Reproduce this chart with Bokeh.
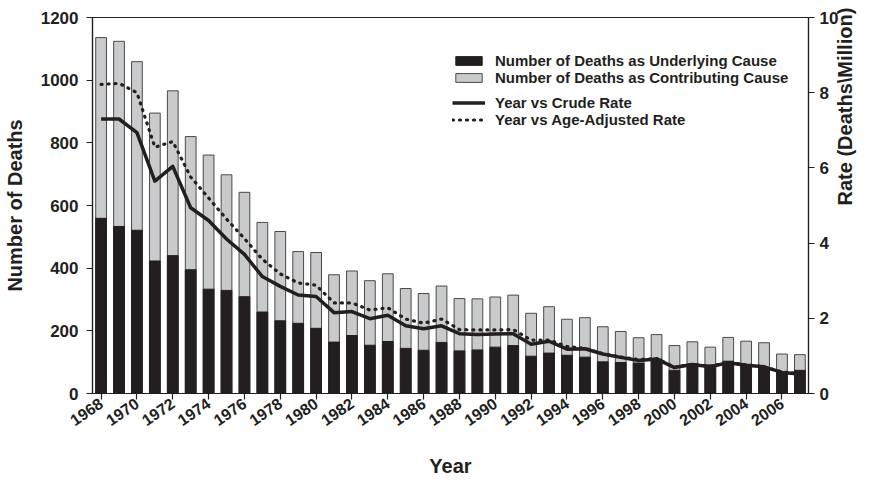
import math
from bokeh.plotting import figure
from bokeh.models import Range1d, LinearAxis, FixedTicker, Legend, LegendItem
from bokeh.embed import file_html
from bokeh.resources import INLINE

years = list(range(1968, 2008))
underlying = [559, 533, 521, 423, 440, 395, 333, 329, 309, 260, 232, 224, 208, 164, 185,
              154, 166, 144, 138, 163, 136, 139, 148, 153, 119, 129, 122, 116,
              101, 99, 97, 110, 74, 93, 91, 103, 90, 83, 67, 74]
contributing = [1136, 1124, 1059, 895, 966, 820, 761, 698, 642, 546, 517, 453, 450, 379, 391,
                360, 382, 335, 319, 343, 303, 302, 308, 314, 256, 277, 237, 242,
                213, 198, 178, 188, 153, 165, 148, 179, 167, 162, 126, 124]
crude_rate = [7.30, 7.30, 6.94, 5.65, 6.04, 4.94, 4.60, 4.11, 3.70, 3.11, 2.85, 2.62, 2.58, 2.15, 2.18,
              1.99, 2.08, 1.80, 1.72, 1.80, 1.59, 1.57, 1.58, 1.59, 1.31, 1.39, 1.18, 1.19,
              1.05, 0.96, 0.88, 0.92, 0.69, 0.77, 0.71, 0.82, 0.75, 0.71, 0.56, 0.52]
age_adj_rate = [8.22, 8.25, 8.00, 6.55, 6.70, 5.76, 5.20, 4.64, 4.12, 3.57, 3.18, 2.94, 2.88, 2.41, 2.41,
                2.22, 2.28, 1.98, 1.87, 1.98, 1.70, 1.69, 1.69, 1.70, 1.42, 1.42, 1.25, 1.20,
                1.06, 0.97, 0.90, 0.93, 0.70, 0.78, 0.72, 0.83, 0.76, 0.71, 0.57, 0.53]
x_ticks = list(range(1968, 2007, 2))
left_ticks = list(range(0, 1201, 200))
right_ticks = [0, 2, 4, 6, 8, 10]

FONT = "Liberation Sans"
INK = "#231f20"

p = figure(width=875, height=479, output_backend="svg", toolbar_location=None,
           x_range=Range1d(1967.52, 2007.48), y_range=Range1d(0, 1200),
           min_border_left=90, min_border_top=17, min_border_right=67, min_border_bottom=86)
p.extra_y_ranges = {"rate": Range1d(0, 10)}
p.grid.visible = False
p.outline_line_color = INK
p.outline_line_width = 1.2
p.background_fill_color = "white"
p.border_fill_color = "white"

r_contrib = p.vbar(x=years, top=contributing, width=0.6, bottom=0,
                   fill_color="#c9cacc", line_color="#4a4a4a", line_width=1)
r_under = p.vbar(x=years, top=underlying, width=0.6, bottom=0,
                 fill_color=INK, line_color=INK, line_width=1)
r_crude = p.line(years, crude_rate, y_range_name="rate", line_color=INK,
                 line_width=3.5, line_join="round")
r_adj = p.line(years, age_adj_rate, y_range_name="rate", line_color=INK,
               line_width=3.2, line_dash="1 6", line_cap="round")

def style_axis(ax):
    ax.axis_line_color = INK
    ax.axis_line_width = 1.2
    ax.major_tick_line_color = INK
    ax.major_tick_line_width = 1.2
    ax.major_tick_out = 6
    ax.major_tick_in = 0
    ax.minor_tick_line_color = None
    ax.major_label_text_font = FONT
    ax.major_label_text_font_style = "bold"
    ax.major_label_text_color = INK
    ax.axis_label_text_font = FONT
    ax.axis_label_text_font_style = "bold"
    ax.axis_label_text_color = INK
    ax.axis_label_text_font_size = "20px"

xa = p.xaxis[0]
style_axis(xa)
xa.ticker = FixedTicker(ticks=x_ticks)
xa.major_label_orientation = 0.6
xa.major_label_text_font_size = "16px"
xa.major_label_standoff = 2
xa.axis_label = "Year"
xa.axis_label_standoff = 20

ya = p.yaxis[0]
style_axis(ya)
ya.ticker = FixedTicker(ticks=left_ticks)
ya.major_label_text_font_size = "17px"
ya.major_label_standoff = 8
ya.axis_label = "Number of Deaths"
ya.axis_label_standoff = 12

ra = LinearAxis(y_range_name="rate", ticker=FixedTicker(ticks=right_ticks))
style_axis(ra)
ra.major_label_text_font_size = "17px"
ra.major_label_standoff = 5
ra.axis_label = "Rate (Deaths\\Million)"
ra.axis_label_standoff = 4
if "axis_label_orientation" in ra.properties():
    ra.axis_label_orientation = math.pi / 2
p.add_layout(ra, "right")

def make_legend(items, loc):
    lg = Legend(items=items, location=loc, padding=0, margin=0, spacing=0,
                glyph_width=33, glyph_height=11, label_height=15, label_standoff=10,
                label_text_font=FONT, label_text_font_style="bold",
                label_text_font_size="15px", label_text_color=INK,
                border_line_color=None, background_fill_alpha=0)
    return lg

lg1 = make_legend([LegendItem(label="Number of Deaths as Underlying Cause", renderers=[r_under]),
                   LegendItem(label="Number of Deaths as Contributing Cause", renderers=[r_contrib])],
                  (360, 307))
lg2 = make_legend([LegendItem(label="Year vs Crude Rate", renderers=[r_crude]),
                   LegendItem(label="Year vs Age-Adjusted Rate", renderers=[r_adj])],
                  (360, 265))
p.add_layout(lg1, "center")
p.add_layout(lg2, "center")

open("out.html", "w").write(file_html(p, INLINE))
